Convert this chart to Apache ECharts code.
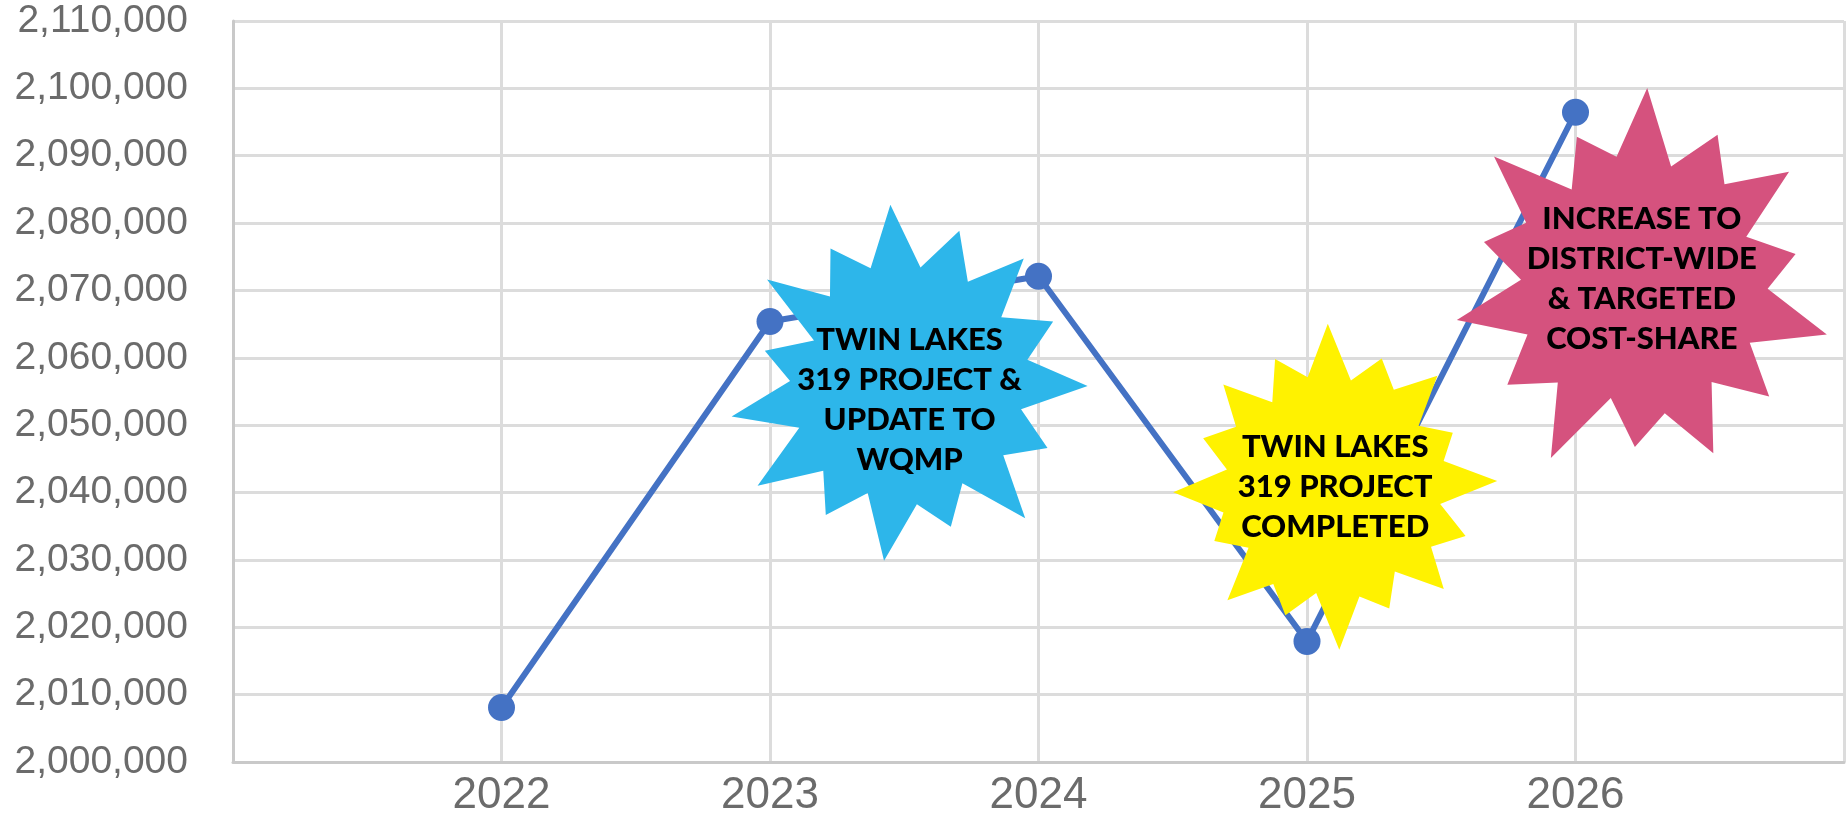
<!DOCTYPE html>
<html>
<head>
<meta charset="utf-8">
<script src="https://cdn.jsdelivr.net/npm/echarts@6/dist/echarts.min.js"></script>
<style>
  html, body { margin: 0; padding: 0; background: #ffffff; }
  #chart { width: 1847px; height: 818px; }
</style>
</head>
<body>
<div id="chart"></div>
<script>
// ---- data ----
const years = [2022, 2023, 2024, 2025, 2026];
const values = [2008100, 2065400, 2072100, 2017900, 2096450];
const yTicks = [2000000, 2010000, 2020000, 2030000, 2040000, 2050000, 2060000, 2070000, 2080000, 2090000, 2100000, 2110000];

// annotation bursts (anchored in data space)
const noteTexts = [
  'TWIN LAKES\n319 PROJECT &\nUPDATE TO\nWQMP',
  'TWIN LAKES\n319 PROJECT\nCOMPLETED',
  'INCREASE TO\nDISTRICT-WIDE\n& TARGETED\nCOST-SHARE'
];
const noteYears = [2023.52, 2025.105, 2026.247];
const noteValues = [2056300, 2040850, 2072600];

// ---- styling ----
const noteColors = ['#2DB6EA', '#FFF200', '#D5527E'];
const noteSizes = [[356, 356], [324, 326], [370, 370]];
const noteOffsets = [[0, 17], [0, 0], [0, 6]];

function starPath(radii, inners, rotDeg) {
  const n = radii.length;
  const rot = rotDeg * Math.PI / 180;
  const pts = [];
  for (let i = 0; i < n; i++) {
    const a = rot + i * 2 * Math.PI / n;
    const r = 100 * radii[i];
    pts.push([100 + r * Math.cos(a), 100 + r * Math.sin(a)]);
    const b = a + Math.PI / n;
    const ri = 100 * inners[i % inners.length];
    pts.push([100 + ri * Math.cos(b), 100 + ri * Math.sin(b)]);
  }
  return 'path://M' + pts.map(p => p[0].toFixed(1) + ' ' + p[1].toFixed(1)).join(' L') + ' Z';
}
const noteShapes = [
  starPath([0.9, 0.95, 0.88, 1.0, 0.86, 1.0, 0.84, 1.0, 0.86, 1.0, 0.98, 0.8, 0.96, 0.86, 1.0],
           [0.66, 0.64, 0.68, 0.65, 0.67, 0.64, 0.68, 0.65, 0.67, 0.64, 0.64, 0.56, 0.64, 0.67, 0.65], -71),
  starPath([1.0, 0.84, 0.93, 0.8, 1.0, 0.86, 0.92, 0.82, 1.0, 0.84, 0.95, 0.8, 0.98, 0.85, 0.92, 0.86], [0.66, 0.7, 0.64, 0.69], -92),
  starPath([1.0, 0.86, 0.96, 0.82, 1.0, 0.88, 0.94, 0.83, 1.0, 0.86, 0.97, 0.84, 1.0, 0.82], [0.62, 0.67, 0.6, 0.66, 0.64], -88)
];

const chart = echarts.init(document.getElementById('chart'), null, { renderer: 'canvas' });

const noteData = noteTexts.map((t, i) => ({
  value: [noteYears[i], noteValues[i]],
  symbol: noteShapes[i],
  symbolSize: noteSizes[i],
  itemStyle: { color: noteColors[i], opacity: 1 },
  label: {
    show: true,
    position: 'inside',
    formatter: t,
    offset: noteOffsets[i],
    color: '#000000',
    opacity: 1,
    fontFamily: 'Lato',
    fontWeight: 900,
    fontSize: 31,
    lineHeight: 40,
    align: 'center'
  }
}));

chart.setOption({
  animation: false,
  backgroundColor: '#ffffff',
  grid: { left: 233, right: 2, top: 21, bottom: 51 },
  xAxis: {
    type: 'value',
    min: 2021,
    max: 2027,
    interval: 1,
    axisLine: { show: true, lineStyle: { color: '#c9c9c9', width: 3 } },
    axisTick: { show: false },
    splitLine: { show: true, lineStyle: { color: '#dcdcdc', width: 3 } },
    axisLabel: {
      formatter: v => (years.indexOf(v) >= 0 ? String(v) : ''),
      color: '#6b6b6b',
      fontFamily: 'Liberation Sans',
      fontSize: 44,
      margin: 12
    }
  },
  yAxis: {
    type: 'value',
    min: yTicks[0],
    max: yTicks[yTicks.length - 1],
    interval: 10000,
    axisLine: { show: true, lineStyle: { color: '#c9c9c9', width: 3 } },
    axisTick: { show: false },
    splitLine: { show: true, lineStyle: { color: '#dcdcdc', width: 3 } },
    axisLabel: {
      formatter: v => v.toLocaleString('en-US'),
      color: '#6b6b6b',
      fontFamily: 'Liberation Sans',
      fontSize: 39,
      margin: 45
    }
  },
  series: [{
    type: 'line',
    data: years.map((y, i) => [y, values[i]]),
    lineStyle: { color: '#4472C4', width: 6 },
    itemStyle: { color: '#4472C4' },
    symbol: 'circle',
    symbolSize: 27,
    showSymbol: true,
    z: 2
  }, {
    type: 'scatter',
    data: noteData,
    z: 5,
    silent: true,
    itemStyle: { opacity: 1 }
  }]
});
</script>
</body>
</html>
